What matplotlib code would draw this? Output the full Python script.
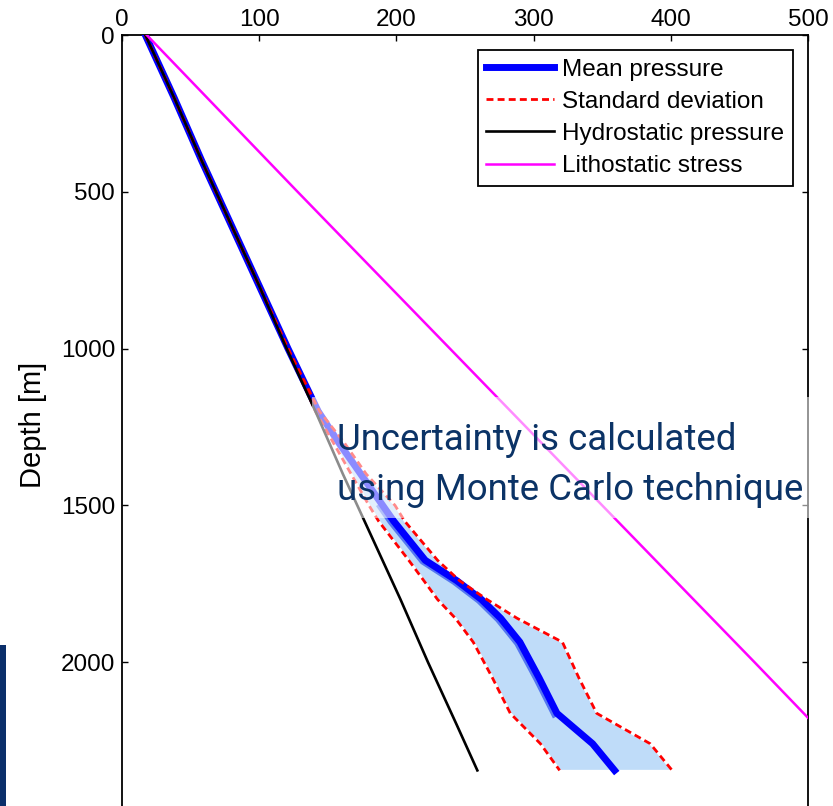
"""
Pore pressure vs depth with Monte Carlo uncertainty band.
"""
import matplotlib
matplotlib.use("Agg")
import matplotlib.pyplot as plt
import matplotlib.patheffects as pe
from matplotlib.patches import Rectangle
import numpy as np

# ------------------------------------------------------------------
# Data
# ------------------------------------------------------------------
depth = [0, 200, 400, 600, 800, 1000, 1200, 1300, 1400, 1500, 1550,
         1675, 1740, 1800, 1860, 1936, 2050, 2163, 2260, 2345]
mean_p = [17, 38, 58, 79, 100, 121, 143, 158, 174, 190, 198,
          221, 244, 262, 276, 290, 304, 317, 343, 359]
std_upper = [17, 38, 58, 79, 100, 121, 144, 162, 178, 199, 206,
             230, 246, 266, 288, 321, 333, 346, 385, 401]
std_lower = [17, 38, 58, 79, 100, 121, 141, 154, 167, 180, 187,
             209, 220, 230, 243, 256, 270, 283, 305, 319]

hydro_depth = [0, 200, 400, 600, 800, 1000, 1200, 1400, 1600, 1800,
               2000, 2200, 2345]
hydro_p = [17, 38, 58, 79, 100, 120, 141, 161, 182, 203, 223, 244, 259]

litho_depth = [0, 500, 1000, 1500, 2000, 2350]
litho_p = [18, 128, 239, 350, 461, 538]

labels = ["Mean pressure", "Standard deviation",
          "Hydrostatic pressure", "Lithostatic stress"]
note = ["Uncertainty is calculated", "using Monte Carlo technique"]

# ------------------------------------------------------------------
# Figure
# ------------------------------------------------------------------
W, H = 833, 806
plt.rcParams['font.family'] = ['Liberation Sans', 'DejaVu Sans']
fig = plt.figure(figsize=(W / 100, H / 100), dpi=100)

# axes reaches below the bottom edge of the picture (cropped slide)
ax = fig.add_axes([122 / W, 1 - 819 / H, (808 - 122) / W, 784 / H])

ax.fill_betweenx(depth, std_lower, std_upper, color="#bfdcf9",
                 edgecolor="white", lw=1.5, zorder=1)

# darker band on the left of the mean curve (the MC realisations)
d = np.array(depth)
band = (d >= 1500) & (d <= 2163)
ax.plot(np.array(mean_p)[band], d[band], color="#5577f0", lw=4, zorder=2,
        path_effects=[pe.SimpleLineShadow(offset=(-2, -1),
                                          shadow_color="#5577f0", alpha=1)])
h_mean, = ax.plot(mean_p, depth, color="#0000ff", lw=5, zorder=3,
                  solid_joinstyle="round")
dash = (0, (2.5, 1.5))
h_std, = ax.plot(std_upper, depth, color="red", lw=2, ls=dash, zorder=4)
ax.plot(std_lower, depth, color="red", lw=2, ls=dash, zorder=4)
h_hyd, = ax.plot(hydro_p, hydro_depth, color="black", lw=1.9, zorder=5)
h_lit, = ax.plot(litho_p, litho_depth, color="#ff00ff", lw=1.8, zorder=5)

ax.set_xlim(0, 500)
ax.set_ylim(2500, 0)
ax.set_xticks([0, 100, 200, 300, 400, 500])
ax.set_yticks([0, 500, 1000, 1500, 2000])
ax.xaxis.tick_top()
ax.tick_params(direction="in", top=True, bottom=True, left=True,
               right=True, labeltop=True, labelbottom=False,
               length=4.5, width=1, labelsize=17.5)
ax.tick_params(axis="x", pad=3)
ax.tick_params(axis="y", pad=5)
for s in ax.spines.values():
    s.set_linewidth(1.3)

fig.text(33 / W, 1 - 425 / H, "Depth [m]", rotation=90, fontsize=21,
         ha="center", va="center")

leg = ax.legend([h_mean, h_std, h_hyd, h_lit], labels, loc="upper right",
                fontsize=17.5, fancybox=False, framealpha=1,
                edgecolor="black", handlelength=2.8, handletextpad=0.33,
                labelspacing=0.42, borderpad=0.35, borderaxespad=0,
                bbox_to_anchor=(1 - 15 / 686, 1 - 15 / 784))
leg.get_frame().set_linewidth(1.3)
leg.set_zorder(10)

# ------------------------------------------------------------------
# Slide overlay: translucent box with the note, and the dark side bar
# ------------------------------------------------------------------
fig.patches.append(Rectangle((312 / W, 1 - 518 / H), (810 - 312) / W,
                             121 / H, transform=fig.transFigure,
                             facecolor="white", alpha=0.55, lw=0,
                             zorder=5))
fig.patches.append(Rectangle((0, 1 - 806 / H), 6 / W, (806 - 645) / H,
                             transform=fig.transFigure,
                             facecolor="#0b2f6a", lw=0, zorder=5))
for i, line in enumerate(note):
    fig.text(337 / W, 1 - (450 + 50 * i) / H, line, fontsize=26.4,
             family=["Roboto", "DejaVu Sans"], fontweight="normal",
             color="#0b3366", ha="left", va="baseline", zorder=6)

fig.savefig("out.png", dpi=100)
plt.close(fig)
